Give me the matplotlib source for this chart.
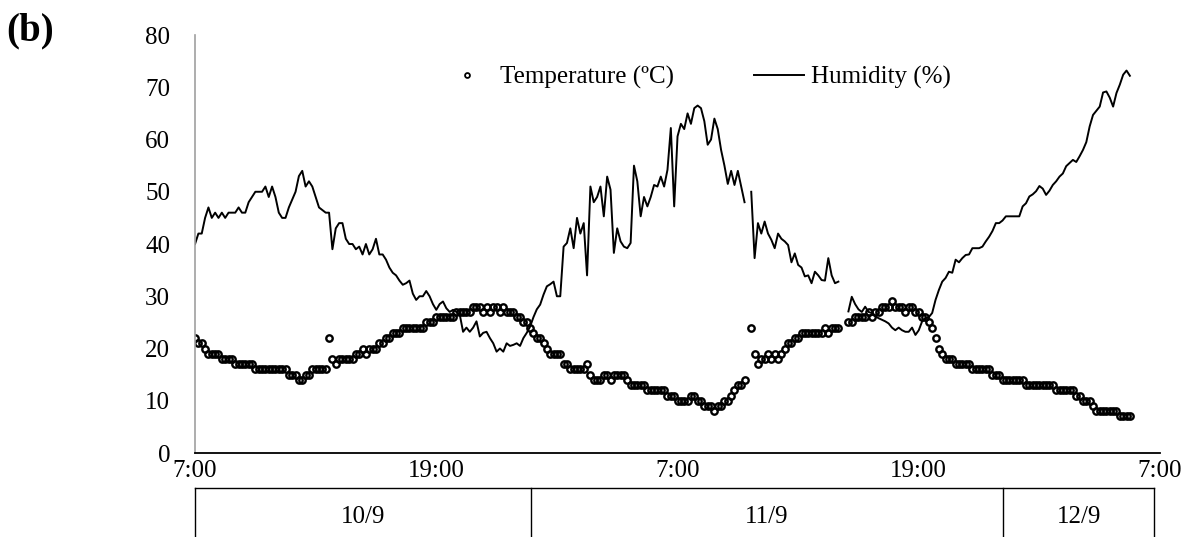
import matplotlib
matplotlib.use('Agg')
import matplotlib.pyplot as plt
import matplotlib.transforms as mtransforms
import numpy as np

plt.rcParams['font.family'] = ['Liberation Serif', 'DejaVu Serif']

nan = np.nan

# readings every 10 min from 7:00 on 10/9, one row per hour
temperature = [
    22, 21, 21, 20, 19, 19,   19, 19, 18, 18, 18, 18,   17, 17, 17, 17, 17, 17,
    16, 16, 16, 16, 16, 16,   16, 16, 16, 16, 15, 15,   15, 14, 14, 15, 15, 16,
    16, 16, 16, 16, 22, 18,   17, 18, 18, 18, 18, 18,   19, 19, 20, 19, 20, 20,
    20, 21, 21, 22, 22, 23,   23, 23, 24, 24, 24, 24,   24, 24, 24, 25, 25, 25,
    26, 26, 26, 26, 26, 26,   27, 27, 27, 27, 27, 28,   28, 28, 27, 28, 27, 28,
    28, 27, 28, 27, 27, 27,   26, 26, 25, 25, 24, 23,   22, 22, 21, 20, 19, 19,
    19, 19, 17, 17, 16, 16,   16, 16, 16, 17, 15, 14,   14, 14, 15, 15, 14, 15,
    15, 15, 15, 14, 13, 13,   13, 13, 13, 12, 12, 12,   12, 12, 12, 11, 11, 11,
    10, 10, 10, 10, 11, 11,   10, 10, 9, 9, 9, 8,       9, 9, 10, 10, 11, 12,
    13, 13, 14, nan, 24, 19,  17, 18, 18, 19, 18, 19,   18, 19, 20, 21, 21, 22,
    22, 23, 23, 23, 23, 23,   23, 23, 24, 23, 24, 24,   24, nan, nan, 25, 25, 26,
    26, 26, 26, 27, 26, 27,   27, 28, 28, 28, 29, 28,   28, 28, 27, 28, 28, 27,
    27, 26, 26, 25, 24, 22,   20, 19, 18, 18, 18, 17,   17, 17, 17, 17, 16, 16,
    16, 16, 16, 16, 15, 15,   15, 14, 14, 14, 14, 14,   14, 14, 13, 13, 13, 13,
    13, 13, 13, 13, 13, 12,   12, 12, 12, 12, 12, 11,   11, 10, 10, 10, 9, 8,
    8, 8, 8, 8, 8, 8,         7, 7, 7, 7,
]

humidity = [
    40, 42, 42, 45, 47, 45,            46, 45, 46, 45, 46, 46,
    46, 47, 46, 46, 48, 49,            50, 50, 50, 51, 49, 51,
    49, 46, 45, 45, 47, 48.5,          50, 53, 54, 51, 52, 51,
    49, 47, 46.5, 46, 46, 39,          43, 44, 44, 41, 40, 40,
    39, 39.5, 38, 40, 38, 39,          41, 38, 38, 37, 35.5, 34.5,
    34, 33, 32.2, 32.5, 33, 30.5,      29.3, 30, 30, 31, 30, 28.5,
    27.4, 28.5, 29, 27.7, 27, 27.4,    27, 26.5, 23.2, 24, 23.2, 24,
    25.2, 22.3, 23, 23.2, 22, 21,      19.4, 20, 19.4, 21, 20.5, 20.7,
    21, 20.5, 22, 23, 24.2, 26,        27.5, 28.4, 30.3, 31.9, 32.3, 32.8,
    30, 30, 39.5, 40.2, 43, 39.2,      45, 42, 44, 34, 51, 48,
    49, 51, 45.3, 52.9, 50.4, 38.3,    43, 40.5, 39.5, 39.2, 40.2, 55,
    52, 45.3, 49, 47.2, 49, 51.3,      51, 52.9, 51, 54.2, 62.2, 47.2,
    60.6, 63, 62, 65, 63, 66,          66.5, 66, 63.5, 59, 60, 64,
    62, 58, 55, 51.5, 54, 51.3,        54, 51, 48, nan, 50, 37.3,
    44, 42, 44.3, 42, 40.8, 39.2,      42, 41, 40.5, 39.8, 36.5, 38.2,
    36, 35.5, 33.8, 34, 32.5, 34.7,    34, 33.1, 33, 37.3, 34, 32.5,
    32.8, nan, nan, 27.1, 29.9, 28.5,  27.5, 27, 28, 27, 26.8, 26.2,
    25.8, 25.5, 25.2, 24.8, 24, 23.5,  24, 23.5, 23.2, 23.2, 24, 22.6,
    23.5, 25.2, 25.8, 26, 26.8, 29.3,  31.2, 32.8, 33.5, 34.7, 34.5, 37,
    36.5, 37.3, 37.9, 38, 39.2, 39.2,  39.2, 39.5, 40.5, 41.4, 42.5, 44,
    44, 44.5, 45.3, 45.3, 45.3, 45.3,  45.3, 47.2, 47.8, 49.1, 49.5, 50.1,
    51.1, 50.6, 49.4, 50.2, 51.3, 52,  52.9, 53.5, 54.9, 55.5, 56.1, 55.7,
    56.8, 58, 59.5, 62.5, 64.7, 65.5,  66.3, 69, 69.2, 68, 66.3, 68.9,
    70.5, 72.4, 73.2, 72.2,
]

tick_hours = [0, 12, 24, 36, 48]
tick_labels = ['7:00', '19:00', '7:00', '19:00', '7:00']
day_labels = ['10/9', '11/9', '12/9']
day_edges = [0, 16.7, 40.2, 47.7]

hours = np.arange(len(temperature)) / 6.0

fig = plt.figure(figsize=(11.98, 5.37), dpi=100)
ax = fig.add_axes([0.1628, 0.1564, 0.8055, 0.7784])

ax.plot(hours, temperature, 'o', mfc='none', mec='black', ms=4.6, mew=1.7,
        label='Temperature (ºC)')
ax.plot(hours, humidity, '-', color='black', lw=1.4, label='Humidity (%)')

ax.set_xlim(0, 48)
ax.set_ylim(0, 80)
ax.set_yticks(range(0, 81, 10))
ax.set_xticks(tick_hours)
ax.set_xticklabels(tick_labels)
ax.tick_params(axis='both', length=0, labelsize=18)
ax.tick_params(axis='y', pad=18)
ax.tick_params(axis='x', pad=5)

ax.spines['top'].set_visible(False)
ax.spines['right'].set_visible(False)
ax.spines['left'].set_color('#a0a0a0')
ax.spines['left'].set_linewidth(1.2)
ax.spines['bottom'].set_linewidth(1.3)

leg = ax.legend(loc='center', bbox_to_anchor=(0.52, 0.899), ncol=2,
                frameon=False, fontsize=18, handlelength=2.0,
                handletextpad=0.3, columnspacing=3.2, borderaxespad=0)
leg.legend_handles[0].set_markersize(3.5)
leg.legend_handles[0].set_markeredgewidth(1.3)

# date row under the time axis
trans = mtransforms.blended_transform_factory(ax.transData, ax.transAxes)
y_top, y_bot = -0.0837, -0.21
ax.plot([day_edges[0], day_edges[-1]], [y_top, y_top], color='black', lw=1,
        transform=trans, clip_on=False)
for e in day_edges:
    ax.plot([e, e], [y_top, y_bot], color='black', lw=1, transform=trans,
            clip_on=False)
for i, lab in enumerate(day_labels):
    ax.text((day_edges[i] + day_edges[i + 1]) / 2, -0.152, lab, transform=trans,
            ha='center', va='center', fontsize=18)

fig.text(0.005, 0.942, '(b)', fontsize=28, fontweight='bold', ha='left',
         va='center')

fig.savefig('out.png', dpi=100)
